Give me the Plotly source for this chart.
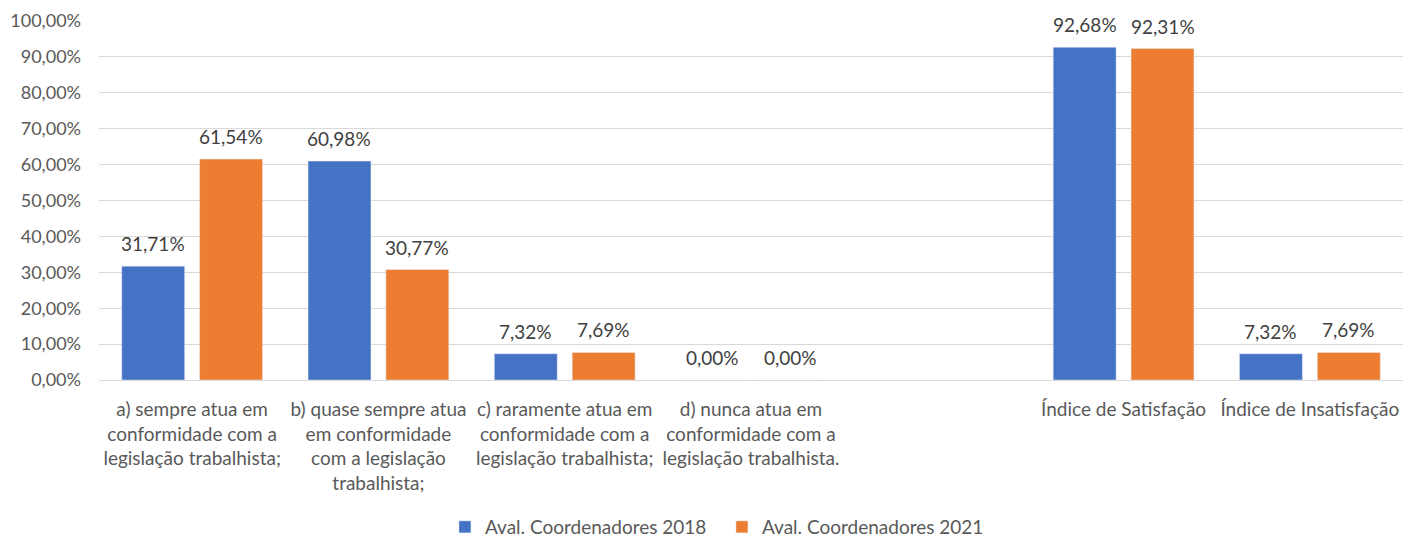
import plotly.graph_objects as go

categories = [
    "a) sempre atua em<br>conformidade com a<br>legislação trabalhista;",
    "b) quase sempre atua<br>em conformidade<br>com a legislação<br>trabalhista;",
    "c) raramente atua em<br>conformidade com a<br>legislação trabalhista;",
    "d) nunca atua em<br>conformidade com a<br>legislação trabalhista.",
    " ",
    "Índice de Satisfação",
    "Índice de Insatisfação",
]
series_names = ["Aval. Coordenadores 2018", "Aval. Coordenadores 2021"]
values_2018 = [31.71, 60.98, 7.32, 0.00, None, 92.68, 7.32]
values_2021 = [61.54, 30.77, 7.69, 0.00, None, 92.31, 7.69]
y_ticks = [0, 10, 20, 30, 40, 50, 60, 70, 80, 90, 100]
y_tick_labels = ["0,00%", "10,00%", "20,00%", "30,00%", "40,00%", "50,00%",
                 "60,00%", "70,00%", "80,00%", "90,00%", "100,00%"]
colors = ["#4472C4", "#ED7D31"]


def fmt(v):
    return f"{v:.2f}%".replace(".", ",")


fig = go.Figure()
for name, vals, col in zip(series_names, [values_2018, values_2021], colors):
    fig.add_trace(go.Bar(x=categories, y=vals, name=name, marker_color=col))

# data labels placed above each bar (grouped offsets of half a bar slot)
for vals, xs in zip([values_2018, values_2021], [-39, 39]):
    for c, v in zip(categories, vals):
        if v is None:
            continue
        fig.add_annotation(x=c, y=v, xref="x", yref="y", text=fmt(v),
                           showarrow=False, xshift=xs, yshift=9, yanchor="bottom",
                           font=dict(size=19, color="#404040"))

fig.update_layout(
    width=1403, height=537,
    margin=dict(l=99, r=0, t=21, b=157),
    paper_bgcolor="white", plot_bgcolor="white",
    font=dict(family="Lato, Calibri, sans-serif", size=19, color="#595959"),
    barmode="group", bargap=0.164, bargroupgap=0.192,
    legend=dict(orientation="h", xref="paper", x=0.2653, xanchor="left",
                yref="container", y=0.0186, yanchor="middle",
                entrywidth=232, entrywidthmode="pixels",
                font=dict(size=19, color="#595959")),
    xaxis=dict(type="category", showgrid=False, showline=True, linecolor="#d9d9d9",
               linewidth=1, ticks="", tickangle=0, ticklabelstandoff=12, automargin=False,
               tickfont=dict(size=19)),
    yaxis=dict(range=[0, 100], tickvals=y_ticks, ticktext=y_tick_labels,
               showgrid=True, gridcolor="#d9d9d9", gridwidth=1, zeroline=False,
               ticklabelstandoff=17, automargin=False, tickfont=dict(size=18)),
    showlegend=True,
)

fig.write_html(
    "out.html",
    config={"displayModeBar": False},
    post_script="document.body.style.margin='0';document.body.style.overflow='hidden';",
)
